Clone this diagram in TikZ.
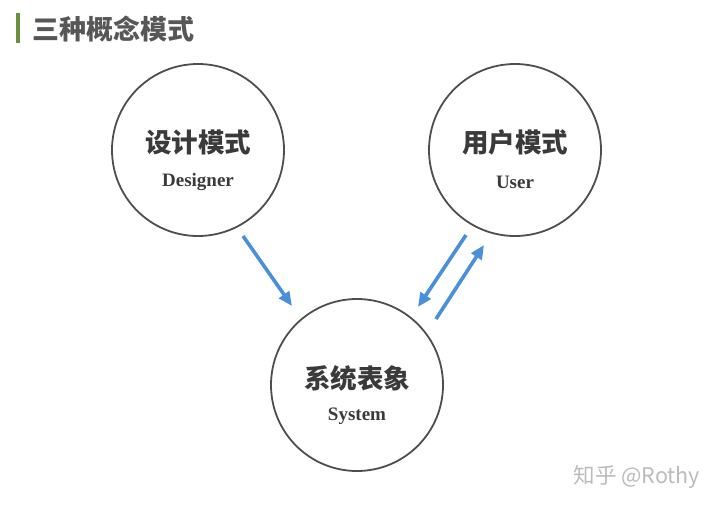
\documentclass[tikz,border=0pt]{standalone}
\usepackage{fontspec}
\setmainfont{Liberation Serif}
\newfontfamily\cjk{Noto Sans CJK SC}
\usetikzlibrary{arrows.meta}
\definecolor{txt}{HTML}{3A3A3A}
\definecolor{arr}{HTML}{4A8FD9}
\definecolor{bar}{HTML}{6A8F3F}
\definecolor{wm}{HTML}{BBBBBB}
\begin{document}
\begin{tikzpicture}[x=1pt,y=-1pt,
  ring/.style={circle,draw=txt!90,line width=1.8pt,minimum size=172pt,inner sep=0pt},
  cn/.style={font=\cjk\bfseries\fontsize{26.5}{30}\selectfont,text=txt},
  en/.style={font=\bfseries\fontsize{19}{22}\selectfont,text=txt},
  link/.style={draw=arr,line width=3.6pt,-{Triangle[length=14pt,width=12pt]}}]
\useasboundingbox (0,0) rectangle (720,509);
\fill[bar] (16,13) rectangle (19.5,43);
\node[anchor=west,font=\cjk\bfseries\fontsize{27}{30}\selectfont,text=txt!85] (title) at (29,29) {三种概念模式};
\node[ring] (d) at (198,150) {};
\node[ring] (u) at (515,150) {};
\node[ring] (s) at (357,385) {};
\node[cn] (dcn) at (198,142) {设计模式};
\node[en] (den) at (198,182) {Designer};
\node[cn] (ucn) at (515,142) {用户模式};
\node[en] (uen) at (515,182) {User};
\node[cn] (scn) at (357,378) {系统表象};
\node[en] (sen) at (357,416) {System};
\coordinate (a1s) at (243,236);
\coordinate (a1e) at (292,306);
\coordinate (a2s) at (466,235);
\coordinate (a2e) at (418,307);
\coordinate (a3s) at (436,319);
\coordinate (a3e) at (484,245);
\draw[link] (a1s) -- (a1e);
\draw[link] (a2s) -- (a2e);
\draw[link] (a3s) -- (a3e);
\node[anchor=west,font=\cjk\fontsize{21.5}{24}\selectfont,text=wm] (wmk) at (570,477) {知乎 @Rothy};
\end{tikzpicture}
\end{document}
